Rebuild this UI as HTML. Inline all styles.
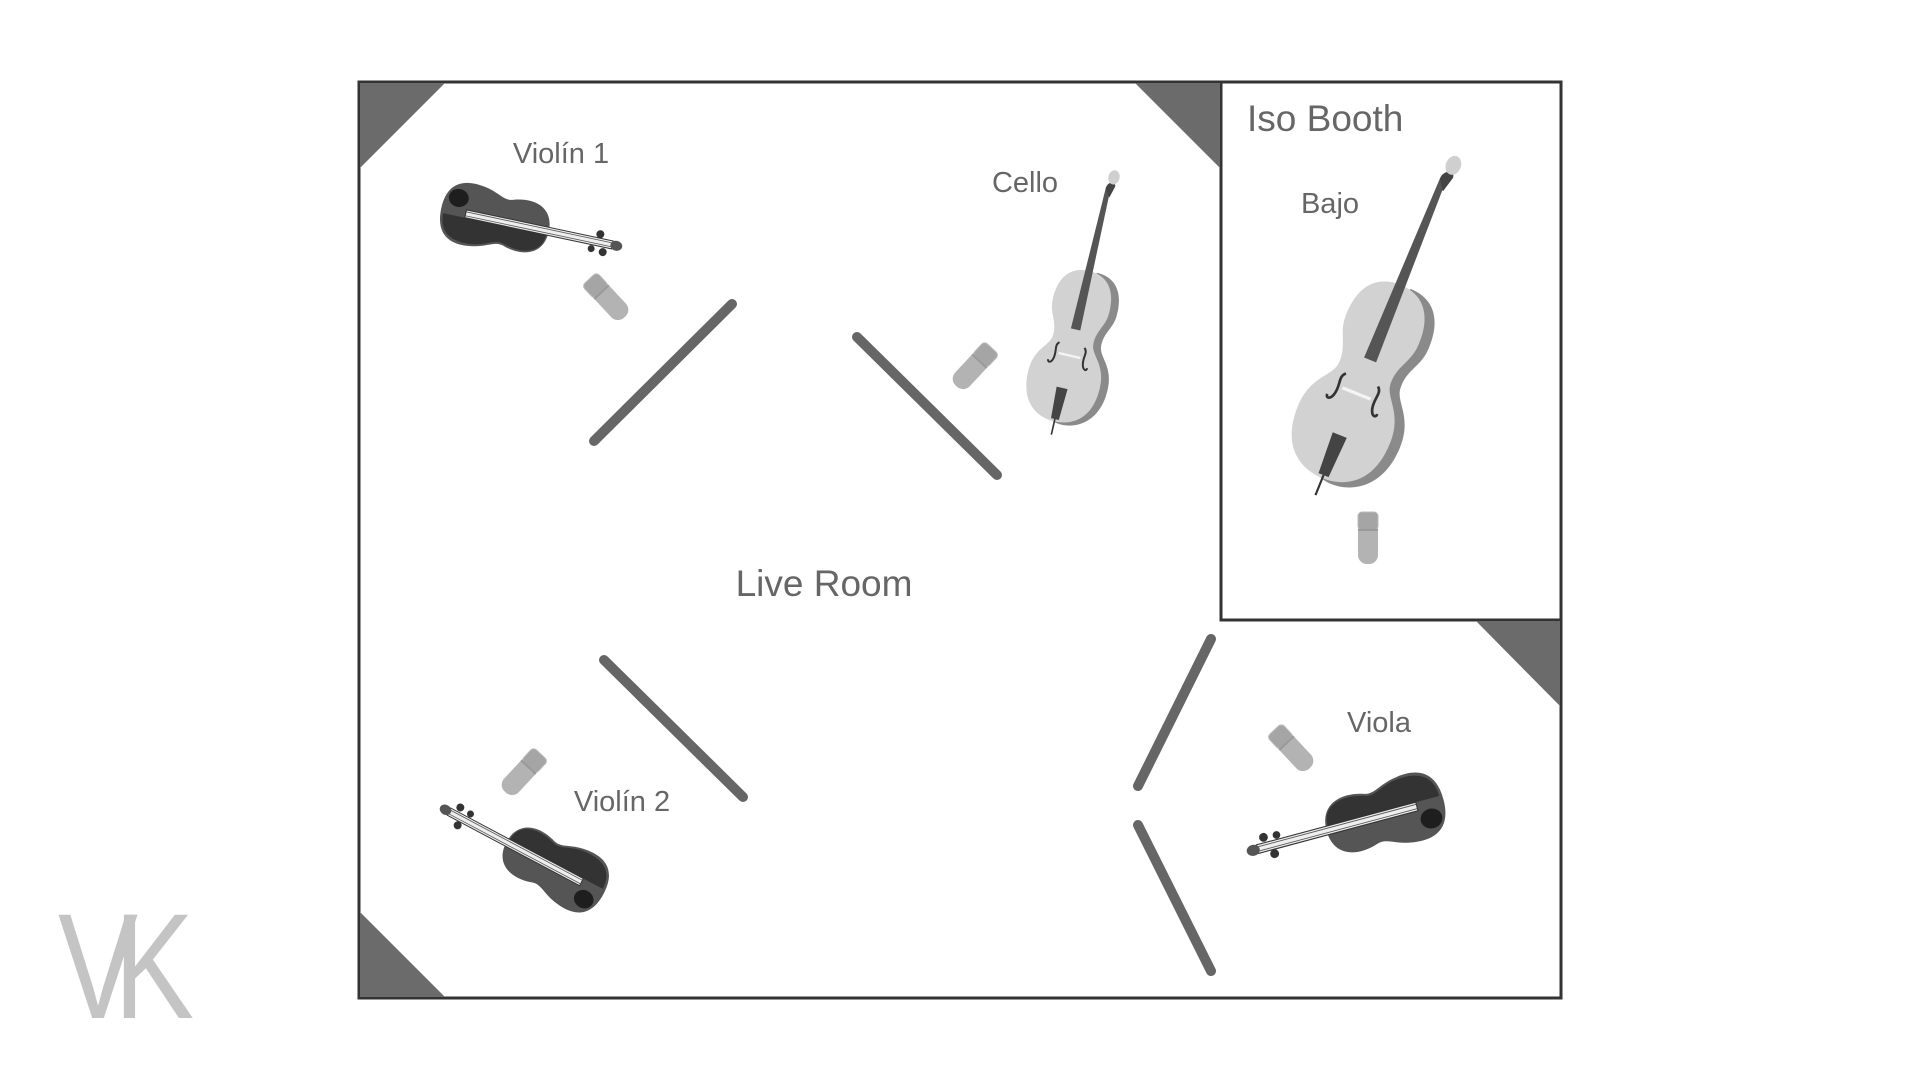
<!DOCTYPE html>
<html><head><meta charset="utf-8"><style>
html,body{margin:0;padding:0;background:#fff;}
svg{display:block;}
text{font-family:"Liberation Sans",sans-serif;fill:#666;}
</style></head><body>
<svg width="1920" height="1080" viewBox="0 0 1920 1080" xmlns="http://www.w3.org/2000/svg">
<defs>
  <g id="violin">
    <path d="M-55,0 C-55,-30 -35,-34 -15,-30 C0,-27 5,-20 15,-24 C35,-30 55,-24 55,0 C55,24 35,30 15,24 C5,20 0,27 -15,30 C-35,34 -55,30 -55,0Z" fill="#555"/>
    <path d="M-52,4 C-52,26 -35,31 -15,28 C0,25 5,18 15,22 C35,28 53,22 53,4 Z" fill="#333"/>
    <ellipse cx="-40" cy="-14" rx="10" ry="9" fill="#1e1e1e"/>
    <rect x="-30" y="-4" width="150" height="8" fill="#eee" stroke="#333" stroke-width="1"/>
    <line x1="-30" y1="-2" x2="120" y2="-2" stroke="#555" stroke-width="0.8"/>
    <line x1="-30" y1="2" x2="120" y2="2" stroke="#555" stroke-width="0.8"/>
    <circle cx="106" cy="-8" r="4" fill="#333"/><circle cx="112" cy="9" r="4" fill="#333"/>
    <circle cx="100" cy="8" r="3.5" fill="#333"/>
    <ellipse cx="124" cy="0" rx="6" ry="5" fill="#555"/>
  </g>
  <g id="cello">
    <path d="M10,-95 C40,-95 48,-70 46,-45 C44,-30 34,-22 36,-5 C38,8 56,15 56,45 C56,85 30,100 10,100 C-10,100 -30,85 -30,45 Z" fill="#8a8a8a"/>
    <path d="M0,-95 C-30,-95 -38,-70 -36,-45 C-34,-30 -24,-22 -26,-5 C-28,8 -46,15 -46,45 C-46,85 -22,98 0,98 C22,98 46,85 46,45 C46,15 28,8 26,-5 C24,-22 34,-30 36,-45 C38,-70 30,-95 0,-95Z" fill="#d2d2d2"/>
    <path d="M-6,-20 L6,-20 L3,-200 L-3,-200Z" fill="#555"/>
    <path d="M-7,55 L7,55 L5,95 L-5,95Z" fill="#444"/>
    <path d="M-16,0 c-6,5 0,12 -3,22 c-2,6 -6,6 -6,2" stroke="#333" stroke-width="2.5" fill="none"/>
    <path d="M16,0 c6,5 0,12 3,22 c2,6 6,6 6,2" stroke="#333" stroke-width="2.5" fill="none"/>
    <rect x="-14" y="12" width="28" height="3" fill="#f4f4f4"/>
    <line x1="0" y1="95" x2="0" y2="115" stroke="#333" stroke-width="2"/>
    <path d="M-3,-200 C-3,-210 8,-212 8,-205 L4,-190Z" fill="#444"/>
    <ellipse cx="4" cy="-216" rx="7" ry="9" fill="#cfcfcf"/>
  </g>
  <g id="mic">
    <rect x="-10" y="-26" width="20" height="52" rx="9" fill="#b3b3b3"/>
    <rect x="-10" y="-26" width="20" height="18" rx="4" fill="#a5a5a5" stroke="#bbb" stroke-width="1"/>
    <line x1="-10" y1="-8" x2="10" y2="-8" stroke="#999" stroke-width="2"/>
  </g>
</defs>

<rect x="359" y="82" width="1202" height="916" fill="#fff" stroke="#333" stroke-width="3"/>
<rect x="1221" y="82" width="340" height="538" fill="#fff" stroke="#333" stroke-width="3"/>

<polygon points="360,83 445,83 360,168" fill="#6b6b6b"/>
<polygon points="1135,83 1220,83 1220,168" fill="#6b6b6b"/>
<polygon points="360,912 445,997 360,997" fill="#6b6b6b"/>
<polygon points="1476,621 1560,621 1560,706" fill="#6b6b6b"/>

<g stroke="#666" stroke-width="10" stroke-linecap="round">
<line x1="594" y1="441" x2="732" y2="304"/>
<line x1="857" y1="337" x2="997" y2="475"/>
<line x1="604" y1="660" x2="743" y2="797"/>
<line x1="1211" y1="639" x2="1138" y2="786"/>
<line x1="1138" y1="825" x2="1211" y2="971"/>
</g>

<use href="#mic" transform="translate(607,298) rotate(-43)"/>
<use href="#mic" transform="translate(974,367) rotate(43)"/>
<use href="#mic" transform="translate(1368,538)"/>
<use href="#mic" transform="translate(523,773) rotate(43)"/>
<use href="#mic" transform="translate(1292,749) rotate(-43)"/>

<use href="#violin" transform="translate(495,220) rotate(12) scale(1)"/>
<use href="#violin" transform="translate(555,868) rotate(208) scale(1)"/>
<use href="#violin" transform="translate(1385,815) rotate(165) scale(1.1)"/>
<use href="#cello" transform="translate(1072,345) rotate(13) scale(0.8)"/>
<use href="#cello" transform="translate(1362,380) rotate(22) scale(1.08)"/>

<text x="561" y="163" font-size="29" text-anchor="middle">Violín 1</text>
<text x="1025" y="192" font-size="29" text-anchor="middle">Cello</text>
<text x="1247" y="131" font-size="37">Iso Booth</text>
<text x="1330" y="213" font-size="29" text-anchor="middle">Bajo</text>
<text x="824" y="596" font-size="37" text-anchor="middle">Live Room</text>
<text x="622" y="811" font-size="29" text-anchor="middle">Violín 2</text>
<text x="1379" y="732" font-size="29" text-anchor="middle">Viola</text>

<text transform="translate(58,1018) scale(0.8,1)" font-size="150" style="fill:#c4c4c4" letter-spacing="-30">VK</text>
</svg>
</body></html>
